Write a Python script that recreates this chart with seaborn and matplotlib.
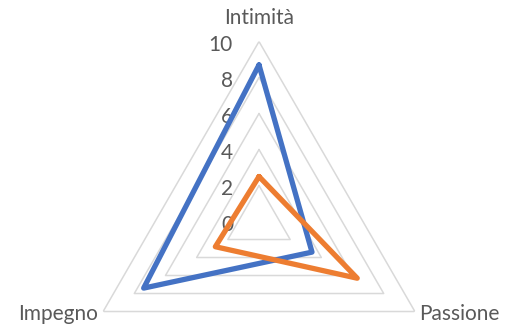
import numpy as np
import pandas as pd
import matplotlib
matplotlib.use("Agg")
import matplotlib.pyplot as plt
import seaborn as sns

# Chart data
categories = ["Intimità", "Passione", "Impegno"]
series_a = [8.7, 3.4, 7.4]   # blue
series_b = [2.5, 6.3, 2.8]   # orange
r_ticks = [0, 2, 4, 6, 8, 10]

sns.set_style("white")
plt.rcParams["font.family"] = ["Lato", "DejaVu Sans"]

text_color = "#595959"
grid_color = "#D9D9D9"
palette = {"A": "#4472C4", "B": "#ED7D31"}

n = len(categories)
angles = np.linspace(0, 2 * np.pi, n, endpoint=False)
closed = np.append(angles, angles[0])

rows = []
for name, vals in [("A", series_a), ("B", series_b)]:
    loop = list(vals) + [vals[0]]
    for i, (t, v) in enumerate(zip(closed, loop)):
        rows.append({"series": name, "theta": t, "value": v, "order": i})
df = pd.DataFrame(rows)

fig = plt.figure(figsize=(5.08, 3.29), dpi=100)
ax = fig.add_axes([0.1555, -0.2204, 0.7087, 1.0942], projection="polar")
ax.set_theta_offset(np.pi / 2)
ax.set_theta_direction(-1)
ax.set_ylim(0, 10)
ax.grid(False)
ax.spines["polar"].set_visible(False)
ax.set_xticks([])
ax.set_yticks([])
ax.patch.set_alpha(0)

# straight-sided gridlines like Excel radar
for lv in r_ticks[1:]:
    ax.plot(closed, [lv] * len(closed), color=grid_color, lw=1.1, zorder=1,
            solid_joinstyle="miter")

sns.lineplot(data=df, x="theta", y="value", hue="series", palette=palette,
             sort=False, estimator=None, units="series", lw=3.8, ax=ax,
             legend=False, zorder=3)
for ln in ax.get_lines():
    ln.set_solid_joinstyle("round")
    ln.set_solid_capstyle("round")
ax.set_xlabel("")
ax.set_ylabel("")

fs = 15

# radial value labels
for lv in r_ticks:
    ax.annotate(str(lv), xy=(0, lv), xytext=(-26, -3), textcoords="offset pixels",
                ha="right", va="center", fontsize=fs, color=text_color, zorder=2)

# category labels
ax.text(angles[0], 11.3, categories[0], ha="center", va="center",
        fontsize=fs, color=text_color)
ax.text(angles[1], 10.3, categories[1], ha="left", va="center",
        fontsize=fs, color=text_color)
ax.text(angles[2], 10.3, categories[2], ha="right", va="center",
        fontsize=fs, color=text_color)

fig.savefig("out.png", dpi=100)
